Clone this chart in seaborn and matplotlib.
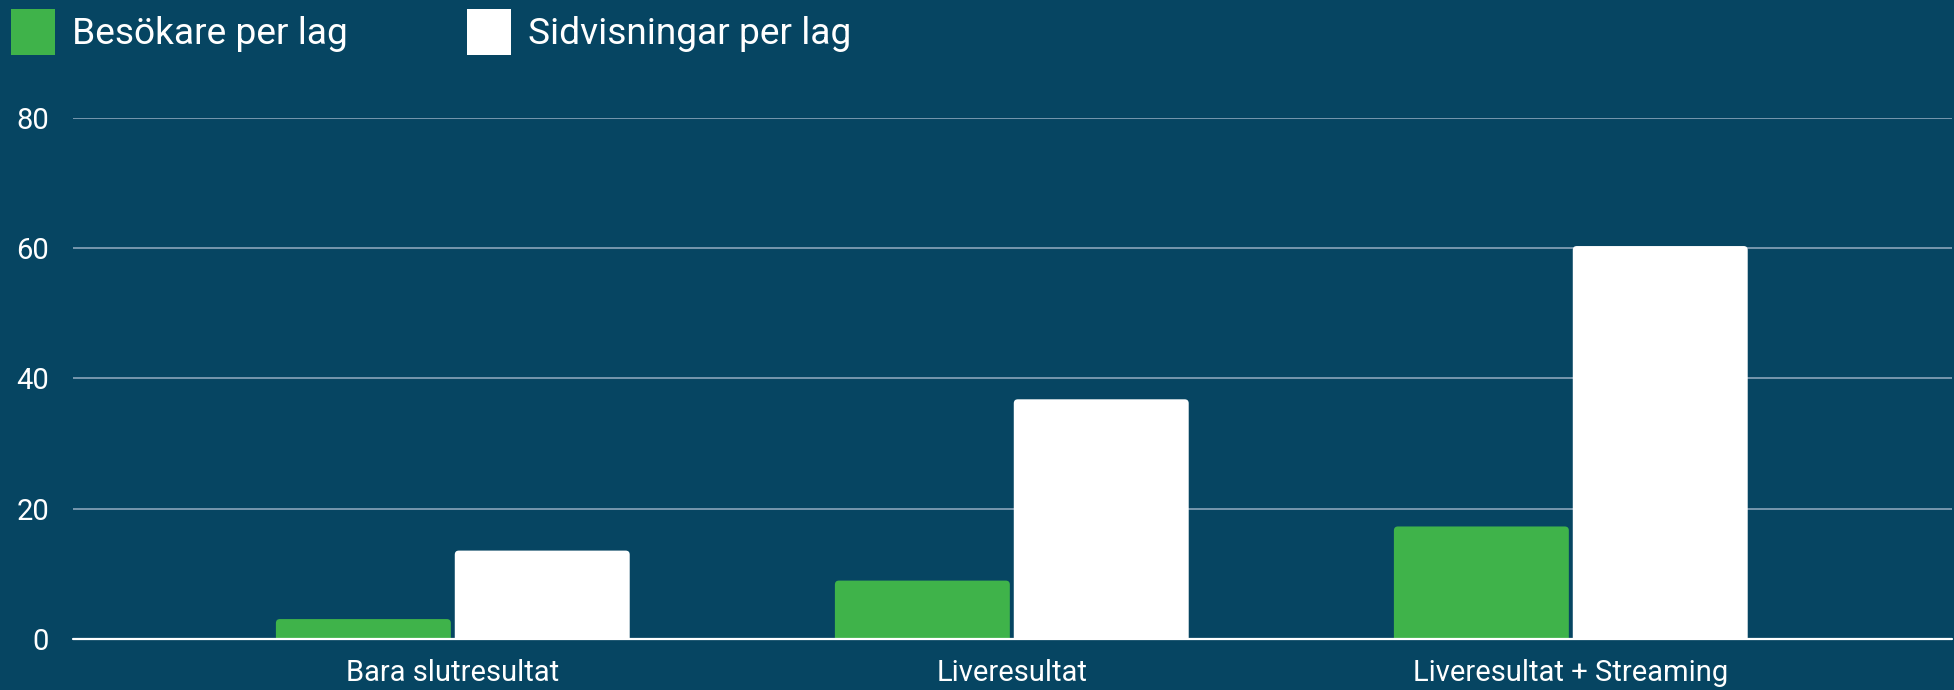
"""
Grouped bar chart: visitors and page views per team for three result modes.
"""

import seaborn as sns
import pandas as pd
import matplotlib.pyplot as plt
from matplotlib.patches import FancyBboxPatch

# Data
categories = ['Bara slutresultat', 'Liveresultat', 'Liveresultat + Streaming']
besokare = [3.1, 9.0, 17.3]
sidvisningar = [13.6, 36.8, 60.3]
series_names = ['Besökare per lag', 'Sidvisningar per lag']

BG = '#064562'
GREEN = '#3fb34a'
GRID = '#7f9db3'

data = pd.DataFrame({
    'kategori': categories * 2,
    'varde': besokare + sidvisningar,
    'serie': [series_names[0]] * 3 + [series_names[1]] * 3,
})

sns.set_theme(style='dark')
plt.rcParams['font.family'] = ['Roboto', 'DejaVu Sans']

fig = plt.figure(figsize=(19.54, 6.9), dpi=100, facecolor=BG)
ax = fig.add_axes([0.0372, 0.0735, 0.9618, 0.7561], facecolor=BG)

sns.barplot(data=data, x='kategori', y='varde', hue='serie', ax=ax,
            palette=[GREEN, 'white'], width=0.64, gap=0.022,
            saturation=1, linewidth=0, order=categories,
            hue_order=series_names)

ax.set_xlim(-0.68, 2.682)
ax.set_ylim(0, 80)
ax.set_yticks([0, 20, 40, 60, 80])
ax.set_xlabel('')
ax.set_ylabel('')

# Legend at top left of figure
handles, labels = ax.get_legend_handles_labels()
ax.get_legend().remove()
leg = fig.legend(handles, labels, loc='upper left',
                 bbox_to_anchor=(10.7 / 1954, 1 - 9 / 690), ncol=2,
                 frameon=False, fontsize=26.7, borderpad=0, borderaxespad=0,
                 handlelength=1.2, handleheight=1.55, handletextpad=0.46,
                 columnspacing=3.2)
for txt in leg.get_texts():
    txt.set_color('white')

# Swap bar rectangles for ones with slightly rounded top corners
rx = 0.0072
ry = 0.62
for bar in list(ax.patches):
    x0, w, h = bar.get_x(), bar.get_width(), bar.get_height()
    rounded = FancyBboxPatch((x0, -ry), w, h + ry,
                             boxstyle=f'round,pad=0,rounding_size={rx}',
                             mutation_aspect=ry / rx,
                             facecolor=bar.get_facecolor(), linewidth=0,
                             zorder=2)
    bar.remove()
    ax.add_patch(rounded)

# Grid lines behind bars, white baseline at zero
for y in [20, 40, 60, 80]:
    ax.axhline(y, color=GRID, lw=1.3, zorder=0)
ax.axhline(0, color='white', lw=1.6, zorder=3, clip_on=False)

for side in ax.spines.values():
    side.set_visible(False)
ax.tick_params(axis='both', length=0, colors='white', labelsize=21)
ax.tick_params(axis='y', pad=17)
ax.tick_params(axis='x', pad=14)

plt.savefig('out.png', dpi=100, facecolor=BG)
